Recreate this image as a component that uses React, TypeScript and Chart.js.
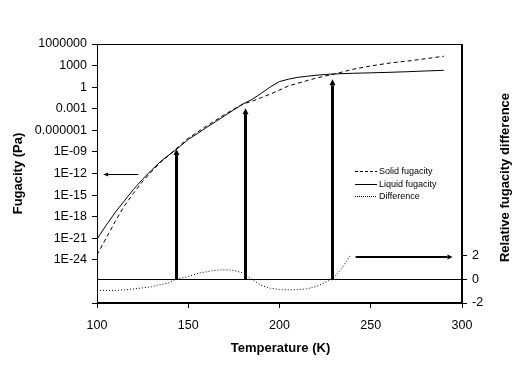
import React, { useEffect, useRef } from 'react';
import { Chart, registerables } from 'chart.js';

Chart.register(...registerables);

// ---- data ----
const temperatures = [100, 105, 110, 115, 120, 125, 130, 135, 140, 145, 150, 155, 160, 165, 170, 175, 180, 185, 190, 195, 200, 205, 210, 215, 220, 225, 230, 240, 250, 260, 270, 280, 290];
const solidFugacity = [5.0e-24, 1.0e-21, 2.2e-19, 3.2e-17, 1.8e-15, 7.9e-14, 2.0e-12, 4.0e-11, 4.5e-10, 6.3e-9, 7.9e-8, 5.6e-7, 4.0e-6, 2.5e-5, 1.6e-4, 8.9e-4, 4.6e-3, 0.011, 0.035, 0.11, 0.40, 1.5, 3.5, 7.9, 18, 35, 66, 300, 890, 2200, 4200, 8900, 20000];
const liquidFugacity = [7.9e-22, 6.3e-20, 4.0e-18, 1.6e-16, 6.3e-15, 1.6e-13, 3.2e-12, 5.0e-11, 5.0e-10, 4.5e-9, 5.6e-8, 3.5e-7, 2.5e-6, 1.6e-5, 1.1e-4, 7.1e-4, 4.6e-3, 0.02, 0.14, 1.1, 6.0, 13, 23, 33, 45, 58, 69, 85, 98, 115, 141, 178, 219];

const diffTemperatures = [100, 105, 110, 115, 119, 124, 129, 133, 139, 143, 150, 156, 163, 168, 172, 175, 180, 185, 190, 195, 200, 205, 210, 215, 220, 223, 227, 229, 232, 234, 238, 239];
const difference = [-0.93, -0.93, -0.93, -0.88, -0.82, -0.73, -0.65, -0.5, -0.3, 0, 0.25, 0.54, 0.74, 0.82, 0.82, 0.76, 0.55, 0, -0.5, -0.75, -0.85, -0.88, -0.86, -0.8, -0.6, -0.4, -0.1, 0, 0.54, 0.9, 1.9, 2.0];

const seriesLabels = ['Solid fugacity', 'Liquid fugacity', 'Difference'];

const xTickValues = [100, 150, 200, 250, 300];
const leftTickValues = [1e6, 1e3, 1, 1e-3, 1e-6, 1e-9, 1e-12, 1e-15, 1e-18, 1e-21, 1e-24, 1e-30];
const leftTickLabels = ['1000000', '1000', '1', '0.001', '0.000001', '1E-09', '1E-12', '1E-15', '1E-18', '1E-21', '1E-24', ''];
const rightTickValues = [-2, 0, 2];

const xTitle = 'Temperature (K)';
const leftTitle = 'Fugacity (Pa)';
const rightTitle = 'Relative fugacity difference';

// annotation arrows (data coordinates)
const upArrowTemps = [143.3, 181, 228.5];
const upArrowTipFugacity = [2.5e-9, 1.2e-3, 12.6];
const leftArrowTemps = [122.6, 103.4];
const leftArrowFugacity = 1e-12;
const rightArrowTemps = [241.7, 294.8];
const rightArrowDifference = 2;

const FONT = '"Liberation Sans", Arial, sans-serif';

function drawArrow(ctx: CanvasRenderingContext2D, x0: number, y0: number, x1: number, y1: number, w: number, headLen: number, headW: number) {
  const dx = x1 - x0, dy = y1 - y0;
  const len = Math.hypot(dx, dy);
  const ux = dx / len, uy = dy / len;
  const bx = x1 - ux * headLen, by = y1 - uy * headLen;
  ctx.lineWidth = w;
  ctx.setLineDash([]);
  ctx.beginPath();
  ctx.moveTo(x0, y0);
  ctx.lineTo(bx, by);
  ctx.stroke();
  ctx.beginPath();
  ctx.moveTo(x1, y1);
  ctx.lineTo(bx - uy * headW / 2, by + ux * headW / 2);
  ctx.lineTo(bx + uy * headW / 2, by - ux * headW / 2);
  ctx.closePath();
  ctx.fill();
}

const decorPlugin = {
  id: 'decor',
  afterDatasetsDraw(chart: any) {
    const { ctx, chartArea, scales } = chart;
    const xs = scales.x, ys = scales.y, y1s = scales.y1;
    ctx.save();
    ctx.strokeStyle = '#000';
    ctx.fillStyle = '#000';
    // plot frame
    ctx.lineWidth = 1;
    ctx.setLineDash([]);
    const l = Math.round(chartArea.left) + 0.5;
    const r = Math.round(chartArea.right) - 0.5;
    const t = Math.round(chartArea.top) + 0.5;
    const b = Math.round(chartArea.bottom) - 0.5;
    ctx.strokeRect(l, t, r - l, b - t);

    // vertical arrows from zero line up to curves
    const yZero = y1s.getPixelForValue(0);
    upArrowTemps.forEach((tt, i) => {
      const px = Math.round(xs.getPixelForValue(tt)) + 0.5;
      drawArrow(ctx, px, yZero, px, ys.getPixelForValue(upArrowTipFugacity[i]), 3, 6, 6);
    });
    // left arrow (towards left axis)
    const ly = Math.round(ys.getPixelForValue(leftArrowFugacity)) + 0.5;
    drawArrow(ctx, xs.getPixelForValue(leftArrowTemps[0]), ly, xs.getPixelForValue(leftArrowTemps[1]), ly, 1, 5, 4);
    // right arrow (towards right axis)
    const ry = Math.round(y1s.getPixelForValue(rightArrowDifference)) + 1;
    drawArrow(ctx, xs.getPixelForValue(rightArrowTemps[0]), ry, xs.getPixelForValue(rightArrowTemps[1]), ry, 2, 5, 5);

    // legend
    ctx.font = `9px ${FONT}`;
    ctx.textBaseline = 'middle';
    ctx.textAlign = 'left';
    chart.data.datasets.forEach((ds: any, i: number) => {
      const yy = Math.round(chartArea.top + 127 + i * 12.7) + 0.5;
      ctx.lineWidth = 1;
      ctx.setLineDash(ds.legendDash || []);
      ctx.beginPath();
      ctx.moveTo(chartArea.left + 258, yy);
      ctx.lineTo(chartArea.left + 280, yy);
      ctx.stroke();
      ctx.setLineDash([]);
      ctx.fillText(ds.label, chartArea.left + 282, yy);
    });

    // axis titles
    ctx.font = `bold 13px ${FONT}`;
    ctx.textAlign = 'center';
    ctx.textBaseline = 'middle';
    const cy = (chartArea.top + chartArea.bottom) / 2;
    ctx.fillText(xTitle, (chartArea.left + chartArea.right) / 2 + 1, chartArea.bottom + 45);
    ctx.save();
    ctx.translate(18, cy);
    ctx.rotate(-Math.PI / 2);
    ctx.fillText(leftTitle, 0, 0);
    ctx.restore();
    ctx.save();
    ctx.translate(505, cy + 4);
    ctx.rotate(-Math.PI / 2);
    ctx.fillText(rightTitle, 0, 0);
    ctx.restore();
    ctx.restore();
  },
};

export default function App() {
  const ref = useRef<HTMLCanvasElement>(null);
  useEffect(() => {
    const canvas = ref.current!;
    const tickFont = { family: FONT, size: 12.5 };
    const chart = new Chart(canvas, {
      type: 'line',
      data: {
        datasets: [
          {
            label: seriesLabels[0],
            data: temperatures.map((t, i) => ({ x: t, y: solidFugacity[i] })),
            yAxisID: 'y',
            borderColor: '#000',
            borderWidth: 1,
            borderDash: [4, 3],
            legendDash: [3, 2],
            pointRadius: 0,
            fill: false,
            tension: 0,
          } as any,
          {
            label: seriesLabels[1],
            data: temperatures.map((t, i) => ({ x: t, y: liquidFugacity[i] })),
            yAxisID: 'y',
            borderColor: '#000',
            borderWidth: 1,
            legendDash: [],
            pointRadius: 0,
            fill: false,
            tension: 0,
          } as any,
          {
            label: seriesLabels[2],
            data: diffTemperatures.map((t, i) => ({ x: t, y: difference[i] })),
            yAxisID: 'y1',
            borderColor: '#000',
            borderWidth: 1,
            borderDash: [1, 2],
            legendDash: [1, 1],
            pointRadius: 0,
            fill: false,
            tension: 0,
          } as any,
        ],
      },
      options: {
        responsive: false,
        animation: false,
        events: [],
        layout: { padding: { top: 44, left: 0, right: 0, bottom: 0 } },
        plugins: { legend: { display: false }, tooltip: { enabled: false } },
        scales: {
          x: {
            type: 'linear',
            min: 100,
            max: 300,
            afterBuildTicks: (s: any) => { s.ticks = xTickValues.map((v) => ({ value: v })); },
            afterFit: (s: any) => { s.height = 88; },
            grid: { drawOnChartArea: false, tickLength: 5, tickColor: '#000' },
            border: { color: '#000', width: 1 },
            ticks: { color: '#000', font: tickFont, padding: 10, maxRotation: 0, callback: (v: any) => String(v) },
          },
          y: {
            type: 'logarithmic',
            position: 'left',
            min: 1e-30,
            max: 1e6,
            afterBuildTicks: (s: any) => { s.ticks = leftTickValues.map((v) => ({ value: v })); },
            afterFit: (s: any) => { s.width = 97; },
            grid: { drawOnChartArea: false, tickLength: 5, tickColor: '#000' },
            border: { color: '#000', width: 1 },
            ticks: {
              color: '#000',
              font: tickFont,
              padding: 5,
              autoSkip: false,
              callback: (v: any) => {
                const i = leftTickValues.findIndex((t) => Math.abs(Math.log10(t) - Math.log10(Number(v))) < 1e-6);
                return i >= 0 ? leftTickLabels[i] : '';
              },
            },
          },
          y1: {
            type: 'linear',
            position: 'right',
            min: -2,
            max: 20,
            afterBuildTicks: (s: any) => { s.ticks = rightTickValues.map((v) => ({ value: v })); },
            afterFit: (s: any) => { s.width = 61; },
            grid: {
              drawOnChartArea: true,
              tickLength: 5,
              tickColor: '#000',
              color: (c: any) => (c.tick && c.tick.value === 0 ? '#000' : 'rgba(0,0,0,0)'),
            },
            border: { color: '#000', width: 1 },
            ticks: { color: '#000', font: tickFont, padding: 5, crossAlign: 'near', autoSkip: false, callback: (v: any) => String(v) },
          },
        },
      } as any,
      plugins: [decorPlugin],
    });
    return () => chart.destroy();
  }, []);
  return (
    <div style={{ position: 'fixed', left: 0, top: 0, width: 523, height: 391, background: '#fff' }}>
      <canvas ref={ref} width={523} height={391} style={{ display: 'block', width: 523, height: 391 }} />
    </div>
  );
}
